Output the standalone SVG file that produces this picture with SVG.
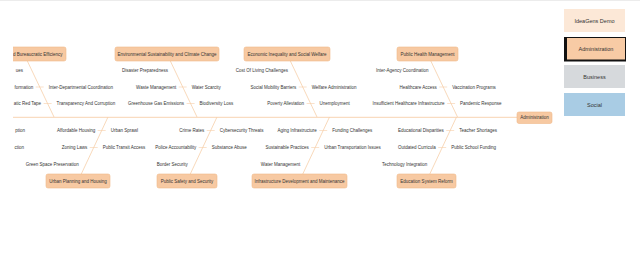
<svg xmlns="http://www.w3.org/2000/svg" width="640" height="261" viewBox="0 0 640 261">
<defs>
<style>
text{font-family:"Liberation Sans",Arial,sans-serif;fill:#333;dominant-baseline:central}
.lbl{font-size:4.5px}
.l{text-anchor:end}
.cat rect{fill:#f7c9a2;stroke:#f0b88a;stroke-width:0.6}
.cat text{font-size:4.5px;text-anchor:middle}
.rib{stroke:#f6cfa9;stroke-width:0.8;fill:none}
.spine{stroke:#f9dcc1;stroke-width:1.2;fill:none}
.tick{stroke:#f6cfa9;stroke-width:0.6}
.leg text{font-size:5.5px;text-anchor:middle}
</style>
<clipPath id="area"><rect x="13" y="0" width="550" height="261"/></clipPath>
</defs>
<rect x="0" y="0" width="640" height="261" fill="#fff"/>
<rect x="0" y="0" width="640" height="1" fill="#ececec"/>
<g clip-path="url(#area)">
<g id="connectors">
<line class="spine" x1="0" y1="117.3" x2="534" y2="117.3"/>
<line class="rib" x1="24" y1="54" x2="54" y2="117"/>
<line class="rib" x1="167" y1="54" x2="197" y2="117"/>
<line class="rib" x1="287" y1="54" x2="317" y2="117"/>
<line class="rib" x1="427.5" y1="54" x2="457.5" y2="117"/>
<line class="rib" x1="78" y1="181" x2="108" y2="117"/>
<line class="rib" x1="187" y1="181" x2="217" y2="117"/>
<line class="rib" x1="299.5" y1="181" x2="329.5" y2="117"/>
<line class="rib" x1="426.5" y1="181" x2="456.5" y2="117"/>
<line class="tick" x1="35.7" y1="87" x2="43.7" y2="87"/>
<line class="tick" x1="43.6" y1="103.5" x2="51.6" y2="103.5"/>
<line class="tick" x1="178.7" y1="87" x2="186.7" y2="87"/>
<line class="tick" x1="186.6" y1="103.5" x2="194.6" y2="103.5"/>
<line class="tick" x1="298.7" y1="87" x2="306.7" y2="87"/>
<line class="tick" x1="306.6" y1="103.5" x2="314.6" y2="103.5"/>
<line class="tick" x1="439.2" y1="87" x2="447.2" y2="87"/>
<line class="tick" x1="447.1" y1="103.5" x2="455.1" y2="103.5"/>
<line class="tick" x1="97.7" y1="130.5" x2="105.7" y2="130.5"/>
<line class="tick" x1="89.7" y1="147.5" x2="97.7" y2="147.5"/>
<line class="tick" x1="206.7" y1="130.5" x2="214.7" y2="130.5"/>
<line class="tick" x1="198.7" y1="147.5" x2="206.7" y2="147.5"/>
<line class="tick" x1="319.2" y1="130.5" x2="327.2" y2="130.5"/>
<line class="tick" x1="311.2" y1="147.5" x2="319.2" y2="147.5"/>
<line class="tick" x1="446.2" y1="130.5" x2="454.2" y2="130.5"/>
<line class="tick" x1="438.2" y1="147.5" x2="446.2" y2="147.5"/>
</g>

<g id="cat-governance" class="cat"><rect x="-20" y="47" width="86" height="14" rx="2"/><text x="62.5" y="54" style="text-anchor:end">d Bureaucratic Efficiency</text></g>
<g id="cat-environment" class="cat"><rect x="115" y="47" width="104" height="14" rx="2"/><text x="167" y="54">Environmental Sustainability and Climate Change</text></g>
<g id="cat-economic" class="cat"><rect x="244" y="47" width="86" height="14" rx="2"/><text x="287" y="54">Economic Inequality and Social Welfare</text></g>
<g id="cat-health" class="cat"><rect x="397" y="47" width="61" height="14" rx="2"/><text x="427.5" y="54">Public Health Management</text></g>
<g id="cat-urban" class="cat"><rect x="46" y="174" width="64" height="14" rx="2"/><text x="78" y="181">Urban Planning and Housing</text></g>
<g id="cat-safety" class="cat"><rect x="157" y="174" width="60" height="14" rx="2"/><text x="187" y="181">Public Safety and Security</text></g>
<g id="cat-infra" class="cat"><rect x="252" y="174" width="95" height="14" rx="2"/><text x="299.5" y="181">Infrastructure Development and Maintenance</text></g>
<g id="cat-education" class="cat"><rect x="397" y="174" width="59" height="14" rx="2"/><text x="426.5" y="181">Education System Reform</text></g>

<g id="causes-governance" class="lbl">
<text class="lbl l" x="23" y="70.5">ues</text>
<text class="lbl l" x="33.2" y="87">formation</text>
<text class="lbl" x="48.7" y="87">Inter-Departmental Coordination</text>
<text class="lbl l" x="41.1" y="103.5">atic Red Tape</text>
<text class="lbl" x="56.6" y="103.5">Transparency And Corruption</text>
</g>
<g id="causes-environment">
<text class="lbl l" x="167.9" y="70.5">Disaster Preparedness</text>
<text class="lbl l" x="176.2" y="87">Waste Management</text>
<text class="lbl" x="191.7" y="87">Water Scarcity</text>
<text class="lbl l" x="184.1" y="103.5">Greenhouse Gas Emissions</text>
<text class="lbl" x="199.6" y="103.5">Biodiversity Loss</text>
</g>
<g id="causes-economic">
<text class="lbl l" x="287.9" y="70.5">Cost Of Living Challenges</text>
<text class="lbl l" x="296.2" y="87">Social Mobility Barriers</text>
<text class="lbl" x="311.7" y="87">Welfare Administration</text>
<text class="lbl l" x="304.1" y="103.5">Poverty Alleviation</text>
<text class="lbl" x="319.6" y="103.5">Unemployment</text>
</g>
<g id="causes-health">
<text class="lbl l" x="428.4" y="70.5">Inter-Agency Coordination</text>
<text class="lbl l" x="436.7" y="87">Healthcare Access</text>
<text class="lbl" x="452.2" y="87">Vaccination Programs</text>
<text class="lbl l" x="444.6" y="103.5">Insufficient Healthcare Infrastructure</text>
<text class="lbl" x="460.1" y="103.5">Pandemic Response</text>
</g>
<g id="causes-hidden">
<text class="lbl l" x="25" y="130.5">ption</text>
<text class="lbl l" x="24" y="147.5">ction</text>
</g>
<g id="causes-urban">
<text class="lbl l" x="95.2" y="130.5">Affordable Housing</text>
<text class="lbl" x="110.7" y="130.5">Urban Sprawl</text>
<text class="lbl l" x="87.2" y="147.5">Zoning Laws</text>
<text class="lbl" x="102.7" y="147.5">Public Transit Access</text>
<text class="lbl l" x="78.7" y="164.5">Green Space Preservation</text>
</g>
<g id="causes-safety">
<text class="lbl l" x="204.2" y="130.5">Crime Rates</text>
<text class="lbl" x="219.7" y="130.5">Cybersecurity Threats</text>
<text class="lbl l" x="196.2" y="147.5">Police Accountability</text>
<text class="lbl" x="211.7" y="147.5">Substance Abuse</text>
<text class="lbl l" x="187.7" y="164.5">Border Security</text>
</g>
<g id="causes-infra">
<text class="lbl l" x="316.7" y="130.5">Aging Infrastructure</text>
<text class="lbl" x="332.2" y="130.5">Funding Challenges</text>
<text class="lbl l" x="308.7" y="147.5">Sustainable Practices</text>
<text class="lbl" x="324.2" y="147.5">Urban Transportation Issues</text>
<text class="lbl l" x="300.2" y="164.5">Water Management</text>
</g>
<g id="causes-education">
<text class="lbl l" x="443.7" y="130.5">Educational Disparities</text>
<text class="lbl" x="459.2" y="130.5">Teacher Shortages</text>
<text class="lbl l" x="435.7" y="147.5">Outdated Curricula</text>
<text class="lbl" x="451.2" y="147.5">Public School Funding</text>
<text class="lbl l" x="427.2" y="164.5">Technology Integration</text>
</g>

<g id="head-administration" class="cat"><rect x="517" y="112" width="35" height="11.5" rx="2"/><text x="534.5" y="117.8">Administration</text></g>
</g>

<g id="legend" class="leg">
<g id="leg-ideagens"><rect x="564" y="9" width="61" height="23" fill="#fce8d7"/><text x="594.5" y="20.5">IdeaGens Demo</text></g>
<g id="leg-administration"><rect x="564" y="37" width="62" height="24.5" fill="#111"/><rect x="567" y="38" width="58" height="21.5" fill="#f8cba5"/><text x="596" y="48.8">Administration</text></g>
<g id="leg-business"><rect x="564" y="65" width="61" height="23" fill="#d6d9dc"/><text x="594.5" y="76.5">Business</text></g>
<g id="leg-social"><rect x="564" y="93" width="61" height="23" fill="#a9cce4"/><text x="594.5" y="104.5">Social</text></g>
</g>
</svg>
